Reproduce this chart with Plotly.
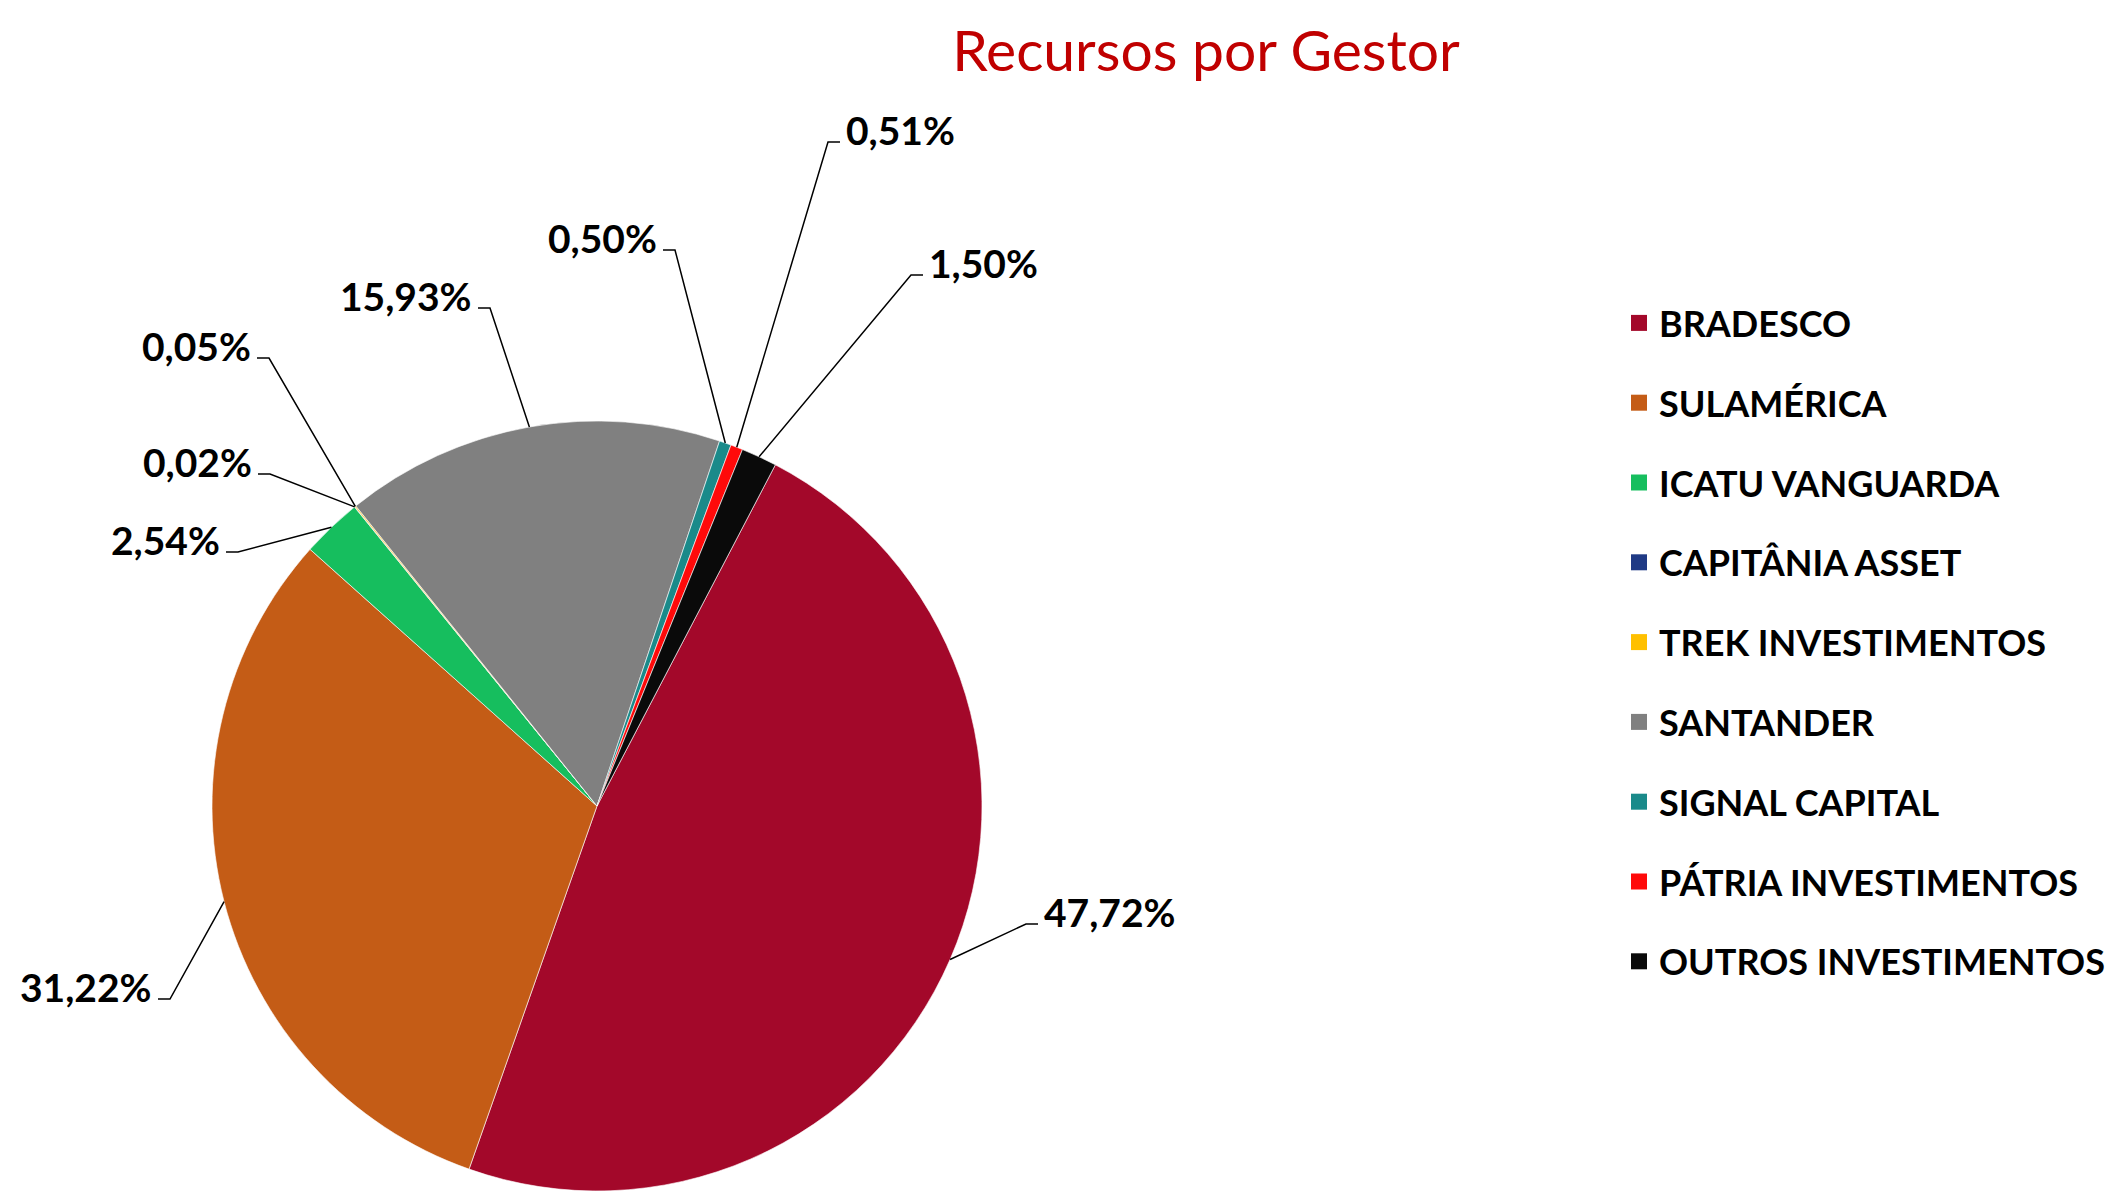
import math
import plotly.graph_objects as go

# ---------------- data ----------------
gestores = ["BRADESCO", "SULAMÉRICA", "ICATU VANGUARDA", "CAPITÂNIA ASSET",
            "TREK INVESTIMENTOS", "SANTANDER", "SIGNAL CAPITAL",
            "PÁTRIA INVESTIMENTOS", "OUTROS INVESTIMENTOS"]
percentuais = [47.72, 31.22, 2.54, 0.02, 0.05, 15.93, 0.50, 0.51, 1.50]
cores = ["#A3082A", "#C45C16", "#16BE5E", "#1F3A85", "#FFC000",
         "#808080", "#1A8A8A", "#FF0A0A", "#0A0A0A"]

# ---------------- layout constants ----------------
W, H = 2117, 1192
OFF = 8                            # page body margin
CX, CY, R = 597, 806, 385          # pie centre / radius in page pixels
ROTATION = 27.6                    # start angle of first slice (clockwise from 12h)

# label elbows (page pixel positions) and side of the text
label_elbow = [(1026, 924, "r"), (170, 999, "l"), (238, 552, "l"), (270, 474, "l"),
               (269, 358, "l"), (490, 308, "l"), (675, 250, "l"), (828, 142, "r"),
               (911, 275, "r")]
TICK = 12
FONT = "Lato, 'Open Sans', sans-serif"


def px(x):
    return (x - OFF) / W


def py(y):
    return 1 - (y - OFF) / H


fig = go.Figure()

fig.add_trace(go.Pie(
    labels=gestores,
    values=percentuais,
    sort=False,
    direction="clockwise",
    rotation=ROTATION,
    marker=dict(colors=cores, line=dict(color="rgba(255,255,255,0.6)", width=1)),
    textinfo="none",
    hovertemplate="%{label}: %{value:.2f}%<extra></extra>",
    showlegend=False,
    domain=dict(x=[px(CX - R), px(CX + R)], y=[py(CY + R), py(CY - R)]),
))

# legend entries (one group each so the spacing can be set)
for g, c in zip(gestores, cores):
    fig.add_trace(go.Scatter(
        x=[None], y=[None], mode="markers", name=g, legendgroup=g,
        marker=dict(symbol="square", size=16, color=c),
        hoverinfo="skip",
    ))

# leader lines + labels computed from slice mid-angles
total = sum(percentuais)
cum = 0.0
shapes, annotations = [], []
for v, (ex, ey, side) in zip(percentuais, label_elbow):
    mid = math.radians(ROTATION + (cum + v / 2) / total * 360)
    cum += v
    sx = CX + R * math.sin(mid)
    sy = CY - R * math.cos(mid)
    tx = ex + TICK if side == "r" else ex - TICK
    shapes.append(dict(
        type="path", xref="paper", yref="paper",
        path=f"M {px(sx)} {py(sy)} L {px(ex)} {py(ey)} L {px(tx)} {py(ey)}",
        line=dict(color="black", width=1.5),
    ))
    txt = f"{v:.2f}%".replace(".", ",")
    annotations.append(dict(
        x=px(tx + (4 if side == "r" else -4)), y=py(ey - 12),
        xref="paper", yref="paper",
        text=f"<b>{txt}</b>", showarrow=False,
        xanchor="left" if side == "r" else "right", yanchor="middle",
        font=dict(family=FONT, size=39, color="black"),
    ))

fig.update_layout(
    width=W, height=H,
    margin=dict(l=0, r=0, t=0, b=0),
    paper_bgcolor="white", plot_bgcolor="white",
    title=dict(text="Recursos por Gestor", x=px(1206), y=py(51),
               xanchor="center", yanchor="middle",
               font=dict(family=FONT, size=57, color="#C00000")),
    xaxis=dict(visible=False), yaxis=dict(visible=False),
    shapes=shapes, annotations=annotations,
    showlegend=True,
    legend=dict(x=px(1619), y=py(293), xanchor="left", yanchor="top",
                font=dict(family=FONT, size=36, color="black", weight="bold"),
                tracegroupgap=30, bgcolor="rgba(0,0,0,0)"),
)

fig.write_html("out.html")
